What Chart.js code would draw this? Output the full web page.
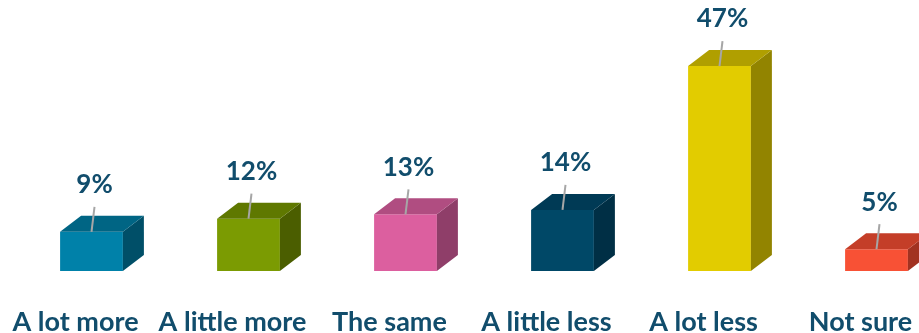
<!DOCTYPE html>
<html lang="en">
<head>
  <meta charset="UTF-8" />
  <title>A lot more / A lot less</title>
  <script src="https://cdn.jsdelivr.net/npm/chart.js"></script>
  <style>
    html, body { margin: 0; padding: 0; background: #fff; overflow: hidden; }
    #wrap { position: relative; width: 955px; height: 333px; }
  </style>
</head>
<body>
  <div id="wrap"><canvas id="graph"></canvas></div>

  <script>
    const categories = ['A lot more', 'A little more', 'The same', 'A little less', 'A lot less', 'Not sure'];
    const percents = [9, 12, 13, 14, 47, 5];

    // front / top / side shades for each box
    const frontColors = ['#0081a9', '#7b9b02', '#dc5f9f', '#004867', '#e2cc00', '#f85135'];
    const topColors   = ['#006584', '#5f7800', '#b04d81', '#003a55', '#b09f00', '#c43e28'];
    const sideColors  = ['#004f68', '#4b5e00', '#8f3e69', '#002f45', '#928400', '#a23221'];

    const textColor = '#114d6c';
    const DX = 21, DY = 16;

    // draws the depth faces, the value labels and their leader lines
    const boxes = {
      id: 'boxes',
      afterDatasetsDraw(chart) {
        const ctx = chart.ctx;
        const meta = chart.getDatasetMeta(0);
        ctx.save();
        meta.data.forEach((bar, i) => {
          const w = bar.width;
          const l = bar.x - w / 2, r = bar.x + w / 2;
          const top = bar.y, base = bar.base;

          ctx.fillStyle = sideColors[i];
          ctx.beginPath();
          ctx.moveTo(r, top);
          ctx.lineTo(r + DX, top - DY);
          ctx.lineTo(r + DX, base - DY);
          ctx.lineTo(r, base);
          ctx.closePath();
          ctx.fill();

          ctx.fillStyle = topColors[i];
          ctx.beginPath();
          ctx.moveTo(l, top);
          ctx.lineTo(l + DX, top - DY);
          ctx.lineTo(r + DX, top - DY);
          ctx.lineTo(r, top);
          ctx.closePath();
          ctx.fill();

          ctx.strokeStyle = '#a6a6a6';
          ctx.lineWidth = 2;
          ctx.beginPath();
          ctx.moveTo(bar.x + 3, top - 25);
          ctx.lineTo(bar.x, top);
          ctx.stroke();

          ctx.fillStyle = textColor;
          ctx.font = 'bold 26px Lato, "Liberation Sans", sans-serif';
          ctx.textAlign = 'center';
          ctx.textBaseline = 'middle';
          ctx.fillText(percents[i] + '%', bar.x + 3, top - 47);
        });
        ctx.restore();
      }
    };

    new Chart(document.getElementById('graph'), {
      type: 'bar',
      data: {
        labels: categories,
        datasets: [{
          data: percents,
          backgroundColor: frontColors,
          borderWidth: 0,
          barPercentage: 0.4,
          categoryPercentage: 1
        }]
      },
      options: {
        responsive: true,
        maintainAspectRatio: false,
        animation: false,
        layout: { padding: { left: 13, right: 0, top: 53, bottom: 0 } },
        plugins: { legend: { display: false }, tooltip: { enabled: false } },
        scales: {
          x: {
            grid: { display: false, drawTicks: false },
            border: { display: false },
            ticks: {
              color: textColor,
              font: { family: 'Lato, "Liberation Sans", sans-serif', size: 27, weight: 'bold' },
              padding: 35,
              labelOffset: -16,
              maxRotation: 0,
              autoSkip: false
            },
            afterFit(scale) {
              scale.height = 62;
              scale.paddingLeft = 0;
              scale.paddingRight = 0;
            }
          },
          y: {
            display: false,
            min: 0,
            max: 50
          }
        }
      },
      plugins: [boxes]
    });
  </script>
</body>
</html>
